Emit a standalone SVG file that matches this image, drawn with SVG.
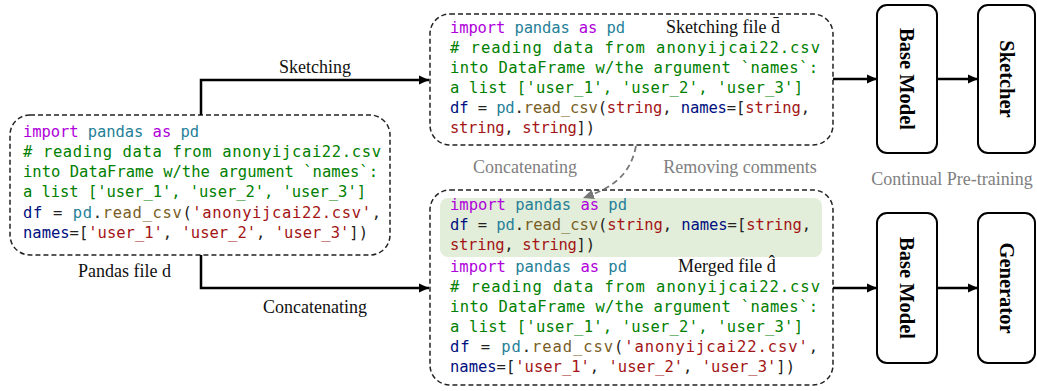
<svg xmlns="http://www.w3.org/2000/svg" width="1037" height="391" viewBox="0 0 1037 391">
<defs>
<marker id="ah" viewBox="0 0 10 10" refX="10" refY="5" markerWidth="10" markerHeight="10" markerUnits="userSpaceOnUse" orient="auto"><path d="M0,0.5 L10,5 L0,9.5 Z" fill="#000"/></marker>
<marker id="ahg" viewBox="0 0 10 10" refX="10" refY="5" markerWidth="11" markerHeight="11" markerUnits="userSpaceOnUse" orient="auto"><path d="M0,0.5 L10,5 L0,9.5 Z" fill="#777"/></marker>
</defs>
<style>
.box{fill:#fff;stroke:#222;stroke-width:1.5;stroke-dasharray:5 3}
.code{font-family:"DejaVu Sans Mono","Liberation Mono",monospace;font-size:15.5px;fill:#222}
.k{fill:#af00db}.m{fill:#267f99}.c{fill:#008000}.v{fill:#001080}.f{fill:#795e26}.s{fill:#a31515}
.lbl{font-family:"Liberation Serif","Times New Roman",serif;font-size:18px;fill:#111}
.gl{font-family:"Liberation Serif","Times New Roman",serif;font-size:18px;fill:#808080}
.mb{fill:#fff;stroke:#000;stroke-width:2}
.mt{font-family:"Liberation Serif","Times New Roman",serif;font-size:20.5px;font-weight:bold;fill:#000}
.ln{fill:none;stroke:#000;stroke-width:2.5}
</style>

<g id="pandas-file">
<rect class="box" x="10" y="115" width="380" height="140" rx="20"/>
<text class="code" x="23" y="137" textLength="176" lengthAdjust="spacing"><tspan class="k">import</tspan> <tspan class="m">pandas</tspan> <tspan class="k">as</tspan> <tspan class="m">pd</tspan></text>
<text class="code c" x="23" y="157" textLength="358" lengthAdjust="spacing"># reading data from anonyijcai22.csv</text>
<text class="code c" x="23" y="177" textLength="355" lengthAdjust="spacing">into DataFrame w/the argument `names`:</text>
<text class="code c" x="23" y="197" textLength="343" lengthAdjust="spacing">a list ['user_1', 'user_2', 'user_3']</text>
<text class="code" x="23" y="218" textLength="358" lengthAdjust="spacing"><tspan class="v">df</tspan> = <tspan class="m">pd</tspan>.<tspan class="f">read_csv</tspan>(<tspan class="s">'anonyijcai22.csv'</tspan>,</text>
<text class="code" x="23" y="238" textLength="345" lengthAdjust="spacing"><tspan class="v">names</tspan>=[<tspan class="s">'user_1'</tspan>, <tspan class="s">'user_2'</tspan>, <tspan class="s">'user_3'</tspan>])</text>
<text class="lbl" x="78" y="277">Pandas file d</text>
</g>

<g id="sketching-file">
<rect class="box" x="430" y="14" width="403" height="131" rx="20"/>
<text class="code" x="450" y="33" textLength="175" lengthAdjust="spacing"><tspan class="k">import</tspan> <tspan class="m">pandas</tspan> <tspan class="k">as</tspan> <tspan class="m">pd</tspan></text>
<text class="lbl" x="666" y="33">Sketching file d̄</text>
<text class="code c" x="450" y="53" textLength="370" lengthAdjust="spacing"># reading data from anonyijcai22.csv</text>
<text class="code c" x="450" y="73" textLength="368" lengthAdjust="spacing">into DataFrame w/the argument `names`:</text>
<text class="code c" x="450" y="93" textLength="353" lengthAdjust="spacing">a list ['user_1', 'user_2', 'user_3']</text>
<text class="code" x="450" y="113" textLength="360" lengthAdjust="spacing"><tspan class="v">df</tspan> = <tspan class="m">pd</tspan>.<tspan class="f">read_csv</tspan>(<tspan class="s">string</tspan>, <tspan class="v">names</tspan>=[<tspan class="s">string</tspan>,</text>
<text class="code" x="450" y="133" textLength="145" lengthAdjust="spacing"><tspan class="s">string</tspan>, <tspan class="s">string</tspan>])</text>
</g>

<g id="merged-file">
<rect class="box" x="430" y="190" width="403" height="195" rx="20"/>
<rect x="440" y="198" width="382" height="59" rx="8" fill="#e3eeda"/>
<text class="code" x="450" y="210" textLength="177" lengthAdjust="spacing"><tspan class="k">import</tspan> <tspan class="m">pandas</tspan> <tspan class="k">as</tspan> <tspan class="m">pd</tspan></text>
<text class="code" x="450" y="230" textLength="361" lengthAdjust="spacing"><tspan class="v">df</tspan> = <tspan class="m">pd</tspan>.<tspan class="f">read_csv</tspan>(<tspan class="s">string</tspan>, <tspan class="v">names</tspan>=[<tspan class="s">string</tspan>,</text>
<text class="code" x="450" y="250" textLength="145" lengthAdjust="spacing"><tspan class="s">string</tspan>, <tspan class="s">string</tspan>])</text>
<text class="code" x="450" y="272" textLength="177" lengthAdjust="spacing"><tspan class="k">import</tspan> <tspan class="m">pandas</tspan> <tspan class="k">as</tspan> <tspan class="m">pd</tspan></text>
<text class="lbl" x="678" y="272">Merged file d̂</text>
<text class="code c" x="450" y="292" textLength="370" lengthAdjust="spacing"># reading data from anonyijcai22.csv</text>
<text class="code c" x="450" y="312" textLength="368" lengthAdjust="spacing">into DataFrame w/the argument `names`:</text>
<text class="code c" x="450" y="332" textLength="353" lengthAdjust="spacing">a list ['user_1', 'user_2', 'user_3']</text>
<text class="code" x="450" y="352" textLength="368" lengthAdjust="spacing"><tspan class="v">df</tspan> = <tspan class="m">pd</tspan>.<tspan class="f">read_csv</tspan>(<tspan class="s">'anonyijcai22.csv'</tspan>,</text>
<text class="code" x="450" y="372" textLength="345" lengthAdjust="spacing"><tspan class="v">names</tspan>=[<tspan class="s">'user_1'</tspan>, <tspan class="s">'user_2'</tspan>, <tspan class="s">'user_3'</tspan>])</text>
</g>

<g id="base-model-1">
<rect class="mb" x="877" y="5" width="60" height="148" rx="10"/>
<text class="mt" transform="translate(907,79) rotate(90)" x="0" y="7" text-anchor="middle">Base Model</text>
</g>
<g id="sketcher">
<rect class="mb" x="978" y="5" width="57" height="148" rx="10"/>
<text class="mt" transform="translate(1006.5,79) rotate(90)" x="0" y="7" text-anchor="middle">Sketcher</text>
</g>
<g id="base-model-2">
<rect class="mb" x="877" y="213" width="60" height="150" rx="10"/>
<text class="mt" transform="translate(907,288) rotate(90)" x="0" y="7" text-anchor="middle">Base Model</text>
</g>
<g id="generator">
<rect class="mb" x="978" y="213" width="57" height="150" rx="10"/>
<text class="mt" transform="translate(1006.5,288) rotate(90)" x="0" y="7" text-anchor="middle">Generator</text>
</g>

<g id="connectors">
<path class="ln" d="M201,115 V80 H429" marker-end="url(#ah)"/>
<path class="ln" d="M201,255 V288 H429" marker-end="url(#ah)"/>
<path class="ln" d="M833,79 H877" marker-end="url(#ah)"/>
<path class="ln" d="M937,79 H978" marker-end="url(#ah)"/>
<path class="ln" d="M833,288 H877" marker-end="url(#ah)"/>
<path class="ln" d="M937,288 H978" marker-end="url(#ah)"/>
<path d="M636,146 C630,176 612,188 583,198" fill="none" stroke="#777" stroke-width="1.8" stroke-dasharray="6 4" marker-end="url(#ahg)"/>
<text class="lbl" x="315" y="73" text-anchor="middle">Sketching</text>
<text class="lbl" x="315" y="313" text-anchor="middle">Concatenating</text>
<text class="gl" x="525" y="173" text-anchor="middle">Concatenating</text>
<text class="gl" x="740" y="173" text-anchor="middle">Removing comments</text>
<text class="gl" x="952" y="185" text-anchor="middle">Continual Pre-training</text>
</g>
</svg>
